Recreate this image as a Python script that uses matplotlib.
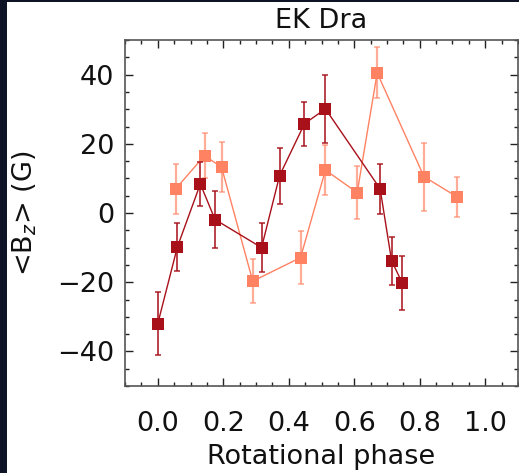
import matplotlib
matplotlib.use("Agg")
import matplotlib.pyplot as plt
from matplotlib.patches import Rectangle
from matplotlib.ticker import MultipleLocator

# Data
phase_a = [0.00, 0.06, 0.13, 0.175, 0.317, 0.372, 0.448, 0.512, 0.679, 0.714, 0.747]
bz_a    = [-32.0, -9.8, 8.4, -1.9, -10.0, 10.8, 25.8, 30.1, 7.0, -13.8, -20.3]
err_a   = [9.1, 7.0, 6.3, 8.3, 7.0, 8.1, 6.3, 9.9, 7.3, 7.0, 7.8]

phase_b = [0.055, 0.143, 0.195, 0.290, 0.436, 0.512, 0.609, 0.670, 0.813, 0.915]
bz_b    = [7.0, 16.6, 13.2, -19.7, -12.9, 12.4, 5.9, 40.5, 10.5, 4.6]
err_b   = [7.3, 6.6, 7.2, 6.3, 7.6, 7.3, 7.7, 7.4, 9.8, 5.9]

xticks = [0.0, 0.2, 0.4, 0.6, 0.8, 1.0]
xticklabels = ["0.0", "0.2", "0.4", "0.6", "0.8", "1.0"]
yticks = [-40, -20, 0, 20, 40]
yticklabels = ["\u221240", "\u221220", "0", "20", "40"]

W, H = 519, 473
fig = plt.figure(figsize=(W / 100, H / 100), dpi=100)
fig.patch.set_facecolor("white")
dark_bg = "#0e1326"
fig.patches.append(Rectangle((0, 0), 7 / W, 1, transform=fig.transFigure,
                             facecolor=dark_bg, edgecolor="none", zorder=0))
fig.patches.append(Rectangle((0, 1 - 2.5 / H), 1, 2.5 / H, transform=fig.transFigure,
                             facecolor=dark_bg, edgecolor="none", zorder=0))

ax = fig.add_axes([125 / W, 1 - 386 / H, 393 / W, 346 / H])

c_dark = "#a8101a"
c_light = "#ff8262"

ax.errorbar(phase_b, bz_b, yerr=err_b, fmt="none", ecolor=c_light, alpha=0.65,
            elinewidth=1.6, capsize=2, capthick=1.2, zorder=2)
ax.plot(phase_b, bz_b, "-", color=c_light, lw=1.0, zorder=3)
ax.plot(phase_b, bz_b, "s", color=c_light, ms=8.3, mew=0, zorder=4)

ax.errorbar(phase_a, bz_a, yerr=err_a, fmt="none", ecolor=c_dark, alpha=0.85,
            elinewidth=1.3, capsize=2, capthick=1.2, zorder=5)
ax.plot(phase_a, bz_a, "-", color=c_dark, lw=1.0, zorder=6)
ax.plot(phase_a, bz_a, "s", color=c_dark, ms=8.3, mew=0, zorder=7)

ax.set_xlim(-0.1, 1.1)
ax.set_ylim(-50, 50)
ax.set_xticks(xticks)
ax.set_xticklabels(xticklabels)
ax.set_yticks(yticks)
ax.set_yticklabels(yticklabels)
ax.xaxis.set_minor_locator(MultipleLocator(0.05))
ax.yaxis.set_minor_locator(MultipleLocator(5))

for s in ax.spines.values():
    s.set_color("#555555")
    s.set_linewidth(1.2)

ax.tick_params(which="both", direction="in", top=True, right=True, colors="#222222", width=1.0)
ax.tick_params(which="major", length=6)
ax.tick_params(which="minor", length=3)
ax.tick_params(axis="x", which="major", pad=18, labelsize=19.5, labelcolor="#111111")
ax.tick_params(axis="y", which="major", pad=8, labelsize=19.5, labelcolor="#111111")

ax.set_title("EK Dra", fontsize=19.5, pad=9, color="#111111")
ax.set_xlabel("Rotational phase", fontsize=19.5, labelpad=5, color="#111111")
ax.set_ylabel("<B$_z$> (G)", fontsize=19.5, labelpad=13, color="#111111")

fig.savefig("out.png", dpi=100, facecolor=fig.get_facecolor())
